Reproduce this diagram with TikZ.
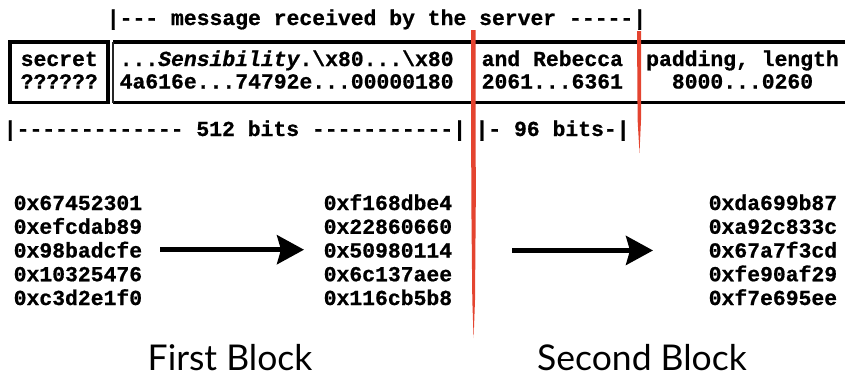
\documentclass[tikz,border=0pt]{standalone}
\usepackage{fontspec}
\setmonofont[BoldFeatures={FakeBold=0.8},BoldItalicFeatures={FakeBold=0.8}]{Liberation Mono}
\newfontfamily\titlefont{Lato}
\usetikzlibrary{arrows.meta}
\definecolor{redline}{RGB}{228,68,48}
\tikzset{
  mono/.style={font=\ttfamily\bfseries\fontsize{21.4}{23.75}\selectfont, inner sep=0pt, anchor=base west},
  monoc/.style={font=\ttfamily\bfseries\fontsize{21.4}{23.75}\selectfont, inner sep=0pt, anchor=base},
  blocktitle/.style={font=\titlefont\fontsize{35.5}{40}\selectfont, inner sep=0pt, anchor=base},
  cellborder/.style={line width=3.3pt, black},
  thinborder/.style={line width=1.8pt, black!85},
  bigarrow/.style={line width=4.5pt, -{Stealth[length=27pt, width=29pt, inset=4pt]}},
  cut/.style={fill=redline, draw=none}
}
\begin{document}
\begin{tikzpicture}[x=1pt, y=-1pt]
\useasboundingbox (0,0) rectangle (845,376);

% header
\node[mono] (hdr) at (106.6,25) {|---~message~received~by~the~server~-----|};

% table
\draw[cellborder] (10,42) rectangle (108,102.5);
\draw[cellborder] (113,42) -- (845,42);
\draw[cellborder] (113,102.5) -- (845,102.5);
\draw[thinborder] (113,42) -- (113,102.5);
\draw[thinborder] (473,42) -- (473,102.5);
\draw[thinborder] (639,42) -- (639,102.5);

\node[mono] (sec1) at (20.5,66) {secret};
\node[mono] (sec2) at (20.5,88.5) {??????};
\node[mono] (msg1) at (119.5,66) {...\textit{Sensibility}.\string\x80...\string\x80};
\node[mono] (msg2) at (119.5,88.5) {4a616e...74792e...00000180};
\node[mono] (reb1) at (481.5,66) {and~Rebecca};
\node[mono] (reb2) at (481.5,88.5) {2061...6361};
\node[monoc] (pad1) at (742.5,66) {padding,~length};
\node[monoc] (pad2) at (742.5,88.5) {8000...0260};

% bit counts
\node[mono] (b512) at (3.6,136) {|-------------~512~bits~-----------|};
\node[mono] (b96) at (475.3,136) {|-~96~bits-|};

% hash values
\foreach \v [count=\i] in {0x67452301,0xefcdab89,0x98badcfe,0x10325476,0xc3d2e1f0}
  \node[mono] (a\i) at (13.5,{210+23.75*(\i-1)}) {\v};
\foreach \v [count=\i] in {0xf168dbe4,0x22860660,0x50980114,0x6c137aee,0x116cb5b8}
  \node[mono] (b\i) at (323.5,{210+23.75*(\i-1)}) {\v};
\foreach \v [count=\i] in {0xda699b87,0xa92c833c,0x67a7f3cd,0xfe90af29,0xf7e695ee}
  \node[mono] (c\i) at (708.5,{210+23.75*(\i-1)}) {\v};

\draw[bigarrow, shorten <=18pt, shorten >=19.5pt] (a3.east) -- (a3.east -| b3.west);
\draw[bigarrow, shorten <=60pt, shorten >=55.5pt] (b3.east) -- (b3.east -| c3.west);

% titles
\node[blocktitle] (t1) at (230,370) {First Block};
\node[blocktitle] (t2) at (642,370) {Second Block};

% red cut lines
\path[cut] (471,30) -- (475.5,30) -- (475.8,200) -- (475,300) -- (473.6,338) -- (472.3,300) -- (471.3,200) -- cycle;
\path[cut] (637,31) -- (641.2,31) -- (641,120) -- (639.5,153) -- (637.6,120) -- cycle;
\end{tikzpicture}
\end{document}
